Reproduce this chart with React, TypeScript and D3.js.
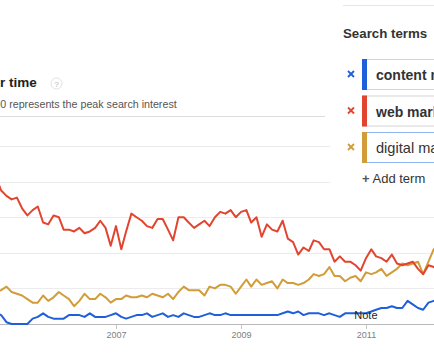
import React from 'react';
import * as d3 from 'd3';

// Monthly search interest, Feb 2005 .. Mar 2012 (0-100 scale)
const startMonth = new Date(2005, 1, 1);
const endMonth = new Date(2012, 3, 1);

const webMarketing = [
  82, 75, 72, 70, 71, 65, 61, 64, 66, 57,
  56, 61, 60, 53, 53, 52, 54, 51, 52, 54,
  58, 54, 44, 55, 42, 52, 62, 60, 58, 55,
  54, 59, 59, 53, 47, 60, 60, 57, 54, 56,
  58, 55, 60, 63, 62, 64, 60, 63, 64, 57,
  60, 49, 56, 53, 52, 58, 48, 46, 39, 43,
  41, 47, 46, 42, 42, 35, 38, 35, 35, 33,
  30, 37, 42, 38, 37, 35, 39, 34, 33, 34,
  35, 31, 28, 33, 32, 30,
];

const digitalMarketing = [
  18, 19, 21, 18, 17, 16, 14, 12, 12, 16,
  13, 15, 18, 16, 14, 10, 13, 17, 14, 14,
  17, 15, 12, 14, 14, 16, 15, 15, 16, 15,
  17, 16, 15, 17, 14, 18, 21, 19, 19, 19,
  16, 21, 20, 22, 22, 21, 17, 21, 25, 21,
  25, 22, 23, 24, 20, 25, 23, 23, 22, 23,
  25, 28, 27, 28, 32, 27, 27, 24, 26, 27,
  24, 29, 28, 29, 31, 27, 29, 31, 34, 33,
  34, 35, 28, 35, 42, 44,
];

const contentMarketing = [
  6, 5, 1, 0, 0, 0, 0, 3, 4, 6,
  4, 3, 3, 3, 5, 5, 5, 4, 6, 4,
  4, 4, 5, 6, 4, 3, 4, 5, 5, 6,
  4, 5, 6, 4, 5, 4, 6, 5, 4, 4,
  5, 6, 5, 5, 6, 5, 5, 5, 5, 5,
  5, 5, 5, 5, 5, 6, 7, 6, 7, 5,
  6, 6, 6, 5, 6, 5, 4, 6, 6, 6,
  6, 6, 7, 8, 9, 9, 10, 9, 9, 13,
  11, 9, 8, 12, 13, 14,
];

const terms = ['content marketing', 'web marketing', 'digital marketing'];
const termColors = ['#1f5fd9', '#e2452f', '#d29c38'];
const yearLabels = [2007, 2009, 2011];
const gridValues = [20, 40, 60, 80, 100];

const W = 434;
const H = 362;

export default function App() {
  const months = d3.timeMonth.range(startMonth, endMonth);

  const x = d3.scaleTime()
    .domain([new Date(2007, 0, 1), new Date(2011, 0, 1)])
    .range([116, 366]);
  const y = d3.scaleLinear().domain([0, 100]).range([324, 146]);

  const line = d3.line<number>()
    .x((_, i) => x(months[i]))
    .y(d => y(d));

  const series = [
    { values: digitalMarketing, color: termColors[2] },
    { values: webMarketing, color: termColors[1] },
    { values: contentMarketing, color: termColors[0] },
  ];

  const font = "'Liberation Sans', Arial, sans-serif";

  return (
    <div style={{ position: 'absolute', left: 0, top: 0 }}>
      <svg width={W} height={H} style={{ display: 'block', fontFamily: font }}>
        <rect width={W} height={H} fill="#fff" />

        {/* header (cropped at the left edge, as in the screenshot) */}
        <text x={36.7} y={87} textAnchor="end" fontSize={13.5} fontWeight="bold" fill="#222">
          Interest over time
        </text>
        <circle cx={56.5} cy={83.5} r={5.5} fill="#fff" stroke="#e2e2e2" />
        <text x={56.5} y={86.5} textAnchor="middle" fontSize={8} fill="#b5b5b5">?</text>
        <text x={176.7} y={108} textAnchor="end" fontSize={10.7} fill="#555">
          The number 100 represents the peak search interest
        </text>
        <line x1={0} x2={325} y1={116.5} y2={116.5} stroke="#dcdcdc" />

        {/* grid */}
        {gridValues.map(v => (
          <line key={v} x1={0} x2={W} y1={Math.round(y(v)) + 0.5} y2={Math.round(y(v)) + 0.5}
            stroke="#ececec" />
        ))}
        <line x1={0} x2={W} y1={324.5} y2={324.5} stroke="#b8b8b8" />
        {yearLabels.map(yr => {
          const px = Math.round(x(new Date(yr, 0, 1))) + 0.5;
          return (
            <g key={yr}>
              <line x1={px} x2={px} y1={325} y2={329} stroke="#c8c8c8" />
              <text x={px} y={338} textAnchor="middle" fontSize={9} fill="#808080">{yr}</text>
            </g>
          );
        })}

        {/* lines */}
        {series.map((s, i) => (
          <path key={i} d={line(s.values) || ''} fill="none" stroke={s.color}
            strokeWidth={2} strokeLinejoin="round" />
        ))}

        <text x={354.3} y={318.5} fontSize={11} fill="#222">Note</text>

        {/* sidebar panel */}
        <rect x={330} y={0} width={W - 330} height={198} fill="#fff" />
        <line x1={343} x2={W} y1={5.5} y2={5.5} stroke="#e6e6e6" />
        <text x={343} y={38} fontSize={13.3} fontWeight="bold" fill="#333">Search terms</text>

        {terms.map((t, i) => {
          const top = 59.5 + i * 36.5;
          const focused = i === 2;
          const cy = top + 14.5;
          return (
            <g key={t}>
              <line x1={348} x2={354} y1={cy - 3} y2={cy + 3} stroke={termColors[i]} strokeWidth={1.8} />
              <line x1={348} x2={354} y1={cy + 3} y2={cy - 3} stroke={termColors[i]} strokeWidth={1.8} />
              <rect x={362.5} y={top} width={90} height={30} fill="#fff"
                stroke={focused ? '#8fb6f0' : '#d4d4d4'} />
              <rect x={362} y={top - 0.5} width={5} height={31} fill={termColors[i]} />
              <text x={376} y={top + 20.5} fontSize={focused ? 14.6 : 14}
                fontWeight={focused ? 'normal' : 'bold'} fill="#333">{t}</text>
            </g>
          );
        })}
        <text x={362} y={183} fontSize={13} fill="#333">
          <tspan fill="#555" fontWeight="bold">+</tspan> Add term
        </text>
      </svg>
    </div>
  );
}
